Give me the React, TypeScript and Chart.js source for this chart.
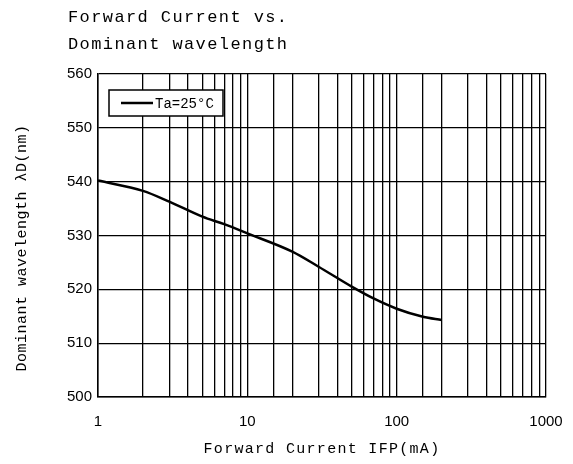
import { useEffect, useRef } from 'react';
import { Chart, registerables } from 'chart.js';

Chart.register(...registerables);

const currents = [1, 2, 3, 5, 7, 10, 20, 30, 50, 70, 100, 150, 200];
const wavelengths = [540.2, 538.3, 536.3, 533.5, 532.1, 530.4, 527.0, 524.2, 520.5, 518.3, 516.4, 514.9, 514.3];
const xTickLabels = [1, 10, 100, 1000];
const yTicks = [500, 510, 520, 530, 540, 550, 560];
const seriesLabel = 'Ta=25°C';
const titleLines = ['Forward Current vs.', 'Dominant wavelength'];
const xTitle = 'Forward Current IFP(mA)';
const yTitle = 'Dominant wavelength λD(nm)';

const MONO = '"Liberation Mono", "DejaVu Sans Mono", monospace';
const TICKFONT = '"Liberation Sans", "DejaVu Sans", sans-serif';

const textPlugin = {
  id: 'textPlugin',
  afterDraw(chart: any) {
    const ctx = chart.ctx as CanvasRenderingContext2D;
    const area = chart.chartArea;
    ctx.save();
    ctx.fillStyle = '#000';
    // Title
    ctx.font = `17px ${MONO}`;
    (ctx as any).letterSpacing = '1.4px';
    ctx.textAlign = 'left';
    ctx.textBaseline = 'alphabetic';
    ctx.fillText(titleLines[0], 68, 22);
    ctx.fillText(titleLines[1], 68, 49);
    // X title
    ctx.font = `15px ${MONO}`;
    (ctx as any).letterSpacing = '1.3px';
    ctx.textAlign = 'center';
    ctx.textBaseline = 'middle';
    ctx.fillText(xTitle, (area.left + area.right) / 2, 449);
    // Y title
    ctx.save();
    ctx.translate(22, 248);
    ctx.rotate(-Math.PI / 2);
    (ctx as any).letterSpacing = '0.5px';
    ctx.fillText(yTitle, 0, 0);
    ctx.restore();
    // Legend
    (ctx as any).letterSpacing = '0px';
    ctx.fillStyle = '#fff';
    ctx.fillRect(109, 90, 114, 26);
    ctx.strokeStyle = '#000';
    ctx.lineWidth = 1.5;
    ctx.strokeRect(109, 90, 114, 26);
    ctx.lineWidth = 2.5;
    ctx.beginPath();
    ctx.moveTo(121, 103);
    ctx.lineTo(153, 103);
    ctx.stroke();
    ctx.fillStyle = '#000';
    ctx.font = `14px ${MONO}`;
    ctx.textAlign = 'left';
    ctx.textBaseline = 'middle';
    ctx.fillText(chart.data.datasets[0].label, 155, 104);
    ctx.restore();
  },
};

export default function App() {
  const ref = useRef<HTMLCanvasElement | null>(null);
  useEffect(() => {
    if (!ref.current) return;
    const chart = new Chart(ref.current, {
      type: 'line',
      data: {
        datasets: [
          {
            label: seriesLabel,
            data: currents.map((c, i) => ({ x: c, y: wavelengths[i] })),
            borderColor: '#000',
            borderWidth: 2.5,
            pointRadius: 0,
            tension: 0.4,
            cubicInterpolationMode: 'monotone',
            fill: false,
          },
        ],
      },
      options: {
        responsive: false,
        animation: false,
        devicePixelRatio: 1,
        layout: { padding: { top: 74, right: 27, left: 0, bottom: 0 } },
        plugins: {
          legend: { display: false },
          title: { display: false },
          tooltip: { enabled: false },
        },
        scales: {
          x: {
            type: 'logarithmic',
            min: 1,
            max: 1000,
            grid: { color: '#000', lineWidth: 1.3, drawTicks: false },
            border: { color: '#000', width: 1.5 },
            ticks: {
              autoSkip: false,
              maxRotation: 0,
              minRotation: 0,
              padding: 16,
              color: '#000',
              font: { family: TICKFONT, size: 15 },
              callback: (v: any) => (xTickLabels.includes(Number(v)) ? String(v) : ''),
            },
            afterFit: (s: any) => {
              s.height = 67;
              s.paddingLeft = 0;
              s.paddingRight = 0;
            },
          },
          y: {
            type: 'linear',
            min: yTicks[0],
            max: yTicks[yTicks.length - 1],
            grid: { color: '#000', lineWidth: 1.3, drawTicks: false },
            border: { color: '#000', width: 1.5 },
            afterBuildTicks: (s: any) => {
              s.ticks = yTicks.map((v) => ({ value: v }));
            },
            ticks: {
              padding: 6,
              color: '#000',
              font: { family: TICKFONT, size: 15 },
            },
            afterFit: (s: any) => {
              s.width = 98;
              s.paddingTop = 0;
              s.paddingBottom = 0;
            },
          },
        },
      },
      plugins: [textPlugin],
    } as any);
    return () => chart.destroy();
  }, []);
  return (
    <div style={{ position: 'absolute', left: 0, top: 0, width: 573, height: 464, background: '#fff' }}>
      <canvas ref={ref} width={573} height={464} />
    </div>
  );
}
